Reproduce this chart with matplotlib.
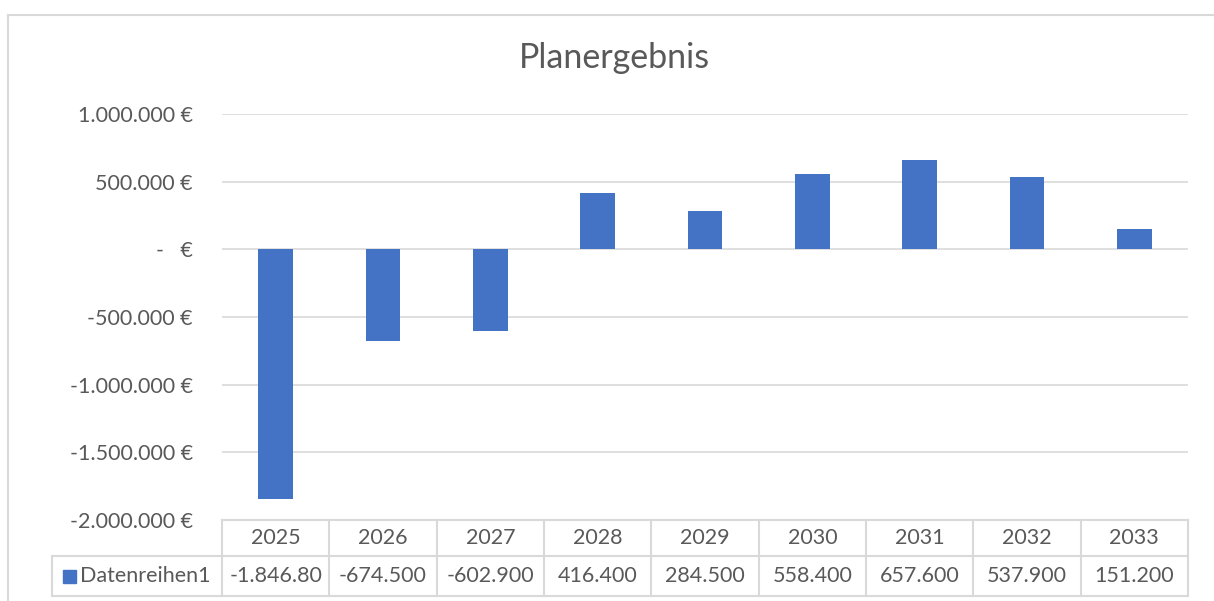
import matplotlib
matplotlib.use("Agg")
import matplotlib.pyplot as plt
from matplotlib.transforms import blended_transform_factory
from matplotlib.lines import Line2D
from matplotlib.patches import Rectangle

years = ["2025", "2026", "2027", "2028", "2029", "2030", "2031", "2032", "2033"]
values = [-1846800, -674500, -602900, 416400, 284500, 558400, 657600, 537900, 151200]
table_labels = ["-1.846.80", "-674.500", "-602.900", "416.400", "284.500",
                "558.400", "657.600", "537.900", "151.200"]
series_name = "Datenreihen1"
title = "Planergebnis"
yticks = [-2000000, -1500000, -1000000, -500000, 0, 500000, 1000000]

FONT = ["Lato", "DejaVu Sans"]
plt.rcParams['font.family'] = FONT
TXT = "#595959"
GRID = "#d9d9d9"
BLUE = "#4472c4"
FS = 15.5

W, H = 1214, 601
fig = plt.figure(figsize=(W / 100, H / 100), dpi=100)

def fx(px):
    return px / W

def fy(py):
    return 1 - py / H

ax = fig.add_axes([fx(222), fy(520), fx(1188) - fx(222), fy(114) - fy(520)])
x = list(range(len(years)))
ax.bar(x, values, width=0.32, color=BLUE, zorder=3)
ax.set_xlim(-0.5, len(years) - 0.5)
ax.set_ylim(-2000000, 1000000)
ax.set_yticks(yticks)

def fmt(v):
    if v == 0:
        return "-   €"
    return f"{v:,.0f} €".replace(",", ".")

ax.set_yticklabels([fmt(v) for v in yticks], fontsize=FS, color=TXT)
ax.tick_params(axis="y", length=0, pad=21)
ax.tick_params(axis="x", length=0, labelbottom=False)
ax.set_xticks([])
for v in yticks:
    ax.axhline(v, color=GRID, lw=1.2, zorder=1)
for s in ax.spines.values():
    s.set_visible(False)

# Title
fig.text(fx(614), fy(58), title, ha="center", va="center", fontsize=24.5, color=TXT)

# Outer frame
fig.add_artist(Line2D([fx(8), fx(1214)], [fy(15), fy(15)], color=GRID, lw=1.5, transform=fig.transFigure))
fig.add_artist(Line2D([fx(8), fx(8)], [fy(15), fy(601)], color=GRID, lw=1.5, transform=fig.transFigure))

# Data table
tr = blended_transform_factory(ax.transData, fig.transFigure)
top, mid, bot = fy(520), fy(556), fy(596)
n = len(years)
LX = 52
ax.add_artist(Line2D([-0.5, n - 0.5], [top, top], color=GRID, lw=1.5, transform=tr, clip_on=False))
fig.add_artist(Line2D([fx(LX), fx(1188)], [mid, mid], color=GRID, lw=1.5, transform=fig.transFigure))
fig.add_artist(Line2D([fx(LX), fx(1188)], [bot, bot], color=GRID, lw=1.5, transform=fig.transFigure))
fig.add_artist(Line2D([fx(LX), fx(LX)], [mid, bot], color=GRID, lw=1.5, transform=fig.transFigure))
for i in range(n + 1):
    ax.add_artist(Line2D([i - 0.5, i - 0.5], [top, bot], color=GRID, lw=1.5, transform=tr, clip_on=False))
for i, (yr, lab) in enumerate(zip(years, table_labels)):
    ax.text(i, (top + mid) / 2, yr, transform=tr, ha="center", va="center", fontsize=FS, color=TXT, clip_on=False)
    ax.text(i, (mid + bot) / 2, lab, transform=tr, ha="center", va="center", fontsize=FS, color=TXT, clip_on=False)
# legend key
fig.add_artist(Rectangle((fx(63), fy(583)), fx(13), fy(570) - fy(583), color=BLUE, transform=fig.transFigure))
fig.text(fx(80), (mid + bot) / 2, series_name, ha="left", va="center", fontsize=FS, color=TXT)

fig.savefig("out.png", dpi=100)
